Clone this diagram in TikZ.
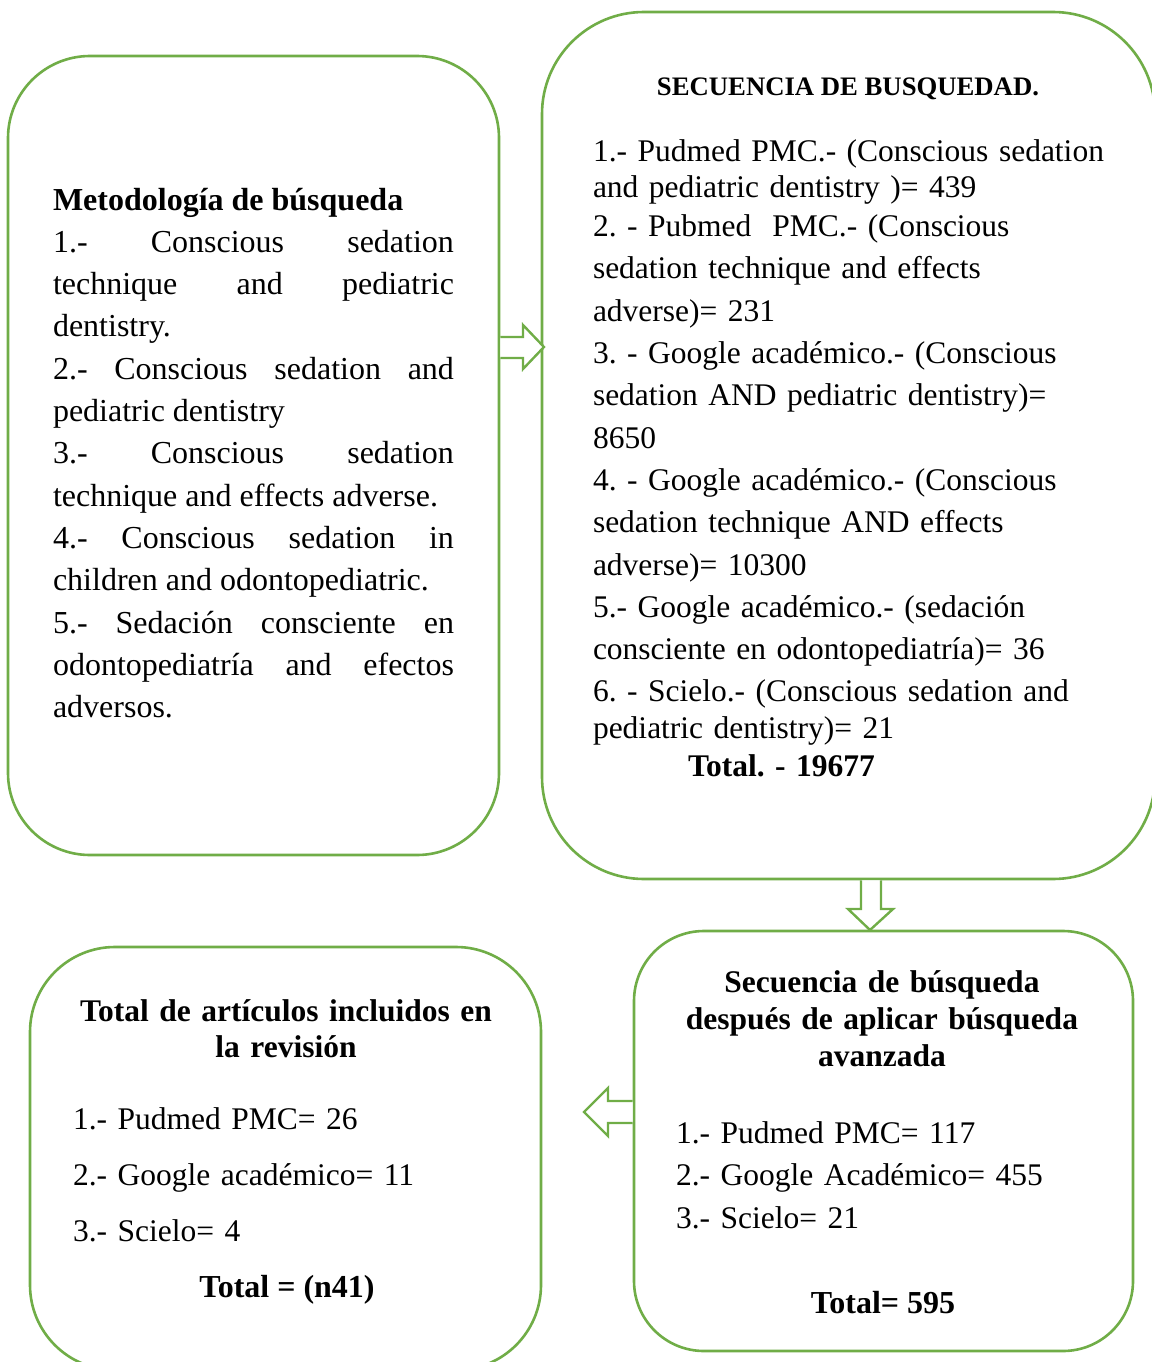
\documentclass[tikz,border=0pt]{standalone}
\usepackage{fontspec}
\setmainfont{Liberation Serif}
\usepackage{tikz}
\usetikzlibrary{positioning, calc}

\definecolor{boxgreen}{RGB}{112,173,71}

\newcommand{\txtbig}{\fontsize{32}{42.3}\selectfont}
\newcommand{\txtlist}{\fontsize{31.5}{42.3}\selectfont}
\frenchspacing

\begin{document}
\begin{tikzpicture}[x=1pt, y=-1pt,
    box/.style={draw=boxgreen, line width=2.6pt, rectangle, fill=white},
    hollow/.style={draw=boxgreen, line width=2.4pt, fill=white, line join=miter},
    txt/.style={inner sep=0pt, outer sep=0pt}]
	\useasboundingbox (0,0) rectangle (1151,1362);

	% the four boxes
	\node[box, rounded corners=82pt, minimum width=491pt, minimum height=799pt] (meth) at (253.5,455.5) {};
	\node[box, rounded corners=102pt, minimum width=613pt, minimum height=867pt] (seq) at (848.5,445.5) {};
	\node[box, rounded corners=70pt, minimum width=499pt, minimum height=420pt] (adv) at (883.5,1141) {};
	\node[box, rounded corners=85pt, minimum width=511pt, minimum height=423pt] (incl) at (285.5,1158.5) {};

	% block arrows between the boxes
	\draw[hollow] (meth.east |- 0,337) -- (523,337) -- (523,325) -- (544,347) -- (523,369) -- (523,358) -- (meth.east |- 0,358);
	\draw[hollow] (861,0 |- seq.south) -- (861,909) -- (848,909) -- (870,930) -- (893,909) -- (881,909) -- (881,0 |- seq.south);
	\draw[hollow] (adv.west |- 0,1101) -- (608,1101) -- (608,1088) -- (584,1112) -- (608,1136) -- (608,1123) -- (adv.west |- 0,1123);

	% left box
	\node[txt, anchor=base west, text width=401pt, align=justify, font=\txtbig] (methtext) at (53,210) {%
		\hyphenpenalty=10000 \exhyphenpenalty=10000 \tolerance=10000
		\textbf{Metodología de búsqueda}\par
		1.- Conscious sedation\linebreak technique and pediatric\linebreak dentistry.\par
		2.- Conscious sedation and\linebreak pediatric dentistry\par
		3.- Conscious sedation\linebreak technique and effects adverse.\par
		4.- Conscious sedation in\linebreak children and odontopediatric.\par
		5.- Sedación consciente en\linebreak odontopediatría and efectos\linebreak adversos.};

	% top right box
	\node[txt, anchor=base, font=\fontsize{26.7}{30}\selectfont\bfseries] (seqhead) at (848,96) {SECUENCIA DE BUSQUEDAD.};
	\node[txt, anchor=base west, text width=540pt, align=left, font=\txtlist] (seqtext) at (593,161) {%
		1.- Pudmed PMC.- (Conscious sedation\\[-6pt]
		and pediatric dentistry )= 439\\[-3pt]
		2. - Pubmed \ PMC.- (Conscious\\
		sedation technique and effects\\
		adverse)= 231\\
		3. - Google académico.- (Conscious\\
		sedation AND pediatric dentistry)=\\
		8650\\
		4. - Google académico.- (Conscious\\
		sedation technique AND effects\\
		adverse)= 10300\\
		5.- Google académico.- (sedación\\
		consciente en odontopediatría)= 36\\
		6. - Scielo.- (Conscious sedation and\\[-6pt]
		pediatric dentistry)= 21\\[-4pt]
		\hspace*{95pt}\textbf{Total. - 19677}};

	% bottom right box
	\node[txt, anchor=base, text width=440pt, align=center, font=\fontsize{31.5}{37}\selectfont\bfseries] (advhead) at (882,992) {%
		Secuencia de búsqueda\\ después de aplicar búsqueda\\ avanzada};
	\node[txt, anchor=base west, text width=420pt, align=left, font=\fontsize{31.5}{42.5}\selectfont] (advlist) at (676,1143) {%
		1.- Pudmed PMC= 117\\ 2.- Google Académico= 455\\ 3.- Scielo= 21};
	\node[txt, anchor=base, font=\txtbig\bfseries] (advtotal) at (883,1313) {Total= 595};

	% bottom left box
	\node[txt, anchor=base, text width=470pt, align=center, font=\fontsize{31.5}{36}\selectfont\bfseries] (inclhead) at (286,1021) {%
		Total de artículos incluidos en\\ la revisión};
	\node[txt, anchor=base west, text width=420pt, align=left, font=\fontsize{31.5}{56}\selectfont] (incllist) at (73,1129) {%
		1.- Pudmed PMC= 26\\ 2.- Google académico= 11\\ 3.- Scielo= 4};
	\node[txt, anchor=base, font=\txtbig\bfseries] (incltotal) at (287,1297) {Total = (n41)};
\end{tikzpicture}
\end{document}
